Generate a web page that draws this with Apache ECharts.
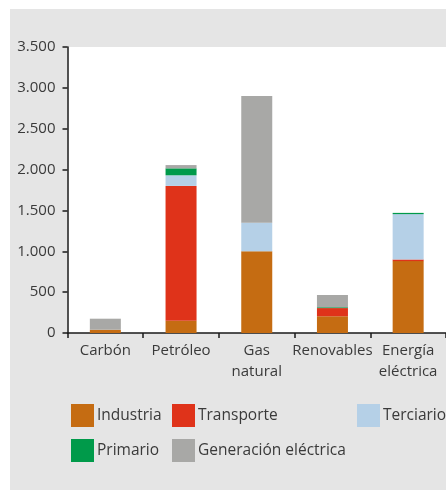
<!DOCTYPE html>
<html><head><meta charset="utf-8">
<script src="https://cdn.jsdelivr.net/npm/echarts@6/dist/echarts.min.js"></script>
<style>html,body{margin:0;padding:0;background:#fff}#c{width:446px;height:490px}</style>
</head><body><div id="c"></div>
<script>
const categories = ['Carbón', 'Petróleo', 'Gas\nnatural', 'Renovables', 'Energía\neléctrica'];
const industria = [40, 150, 1000, 205, 880];
const transporte = [0, 1650, 0, 100, 20];
const terciario = [0, 130, 350, 0, 555];
const primario = [0, 85, 0, 10, 15];
const generacion = [135, 40, 1550, 150, 0];
const yTicks = [0, 500, 1000, 1500, 2000, 2500, 3000, 3500];

const seriesNames = ['Industria', 'Transporte', 'Terciario', 'Primario', 'Generación eléctrica'];
const seriesData = [industria, transporte, terciario, primario, generacion];
const colors = ['#c56c12', '#df331a', '#b5d0e7', '#009a4a', '#a8a8a6'];
const font = '"Open Sans", sans-serif';
const txt = '#3a3a3a';

const legendPos = [[71, 404], [172, 404], [357, 404], [71, 439], [172, 439]];

const chart = echarts.init(document.getElementById('c'), null, {renderer: 'canvas'});
chart.setOption({
  backgroundColor: '#ffffff',
  animation: false,
  graphic: [{type: 'rect', z: -10, shape: {x: 10, y: 9, width: 436, height: 481}, style: {fill: '#e5e5e5'}}],
  grid: {left: 67.5, top: 47, right: -1.5, bottom: 157, show: true, backgroundColor: '#ffffff', borderWidth: 0},
  xAxis: {
    type: 'category', data: categories,
    axisLine: {lineStyle: {color: '#1a1a1a', width: 1.5}},
    axisTick: {show: true, length: 5, lineStyle: {color: '#1a1a1a', width: 1.5}},
    axisLabel: {color: txt, fontFamily: font, fontSize: 15, margin: 7, lineHeight: 21, interval: 0}
  },
  yAxis: {
    type: 'value', min: yTicks[0], max: yTicks[yTicks.length - 1], interval: 500,
    splitLine: {show: false},
    axisLine: {show: true, lineStyle: {color: '#1a1a1a', width: 1.5}},
    axisTick: {show: true, length: 5, lineStyle: {color: '#1a1a1a', width: 1.5}},
    axisLabel: {color: txt, fontFamily: font, fontSize: 15, margin: 12,
      formatter: v => String(v).replace(/\B(?=(\d{3})+(?!\d))/g, '.')}
  },
  legend: seriesNames.map((n, i) => ({
    data: [n], left: legendPos[i][0], top: legendPos[i][1], padding: 0,
    icon: 'rect', itemWidth: 23, itemHeight: 23, itemGap: 3,
    textStyle: {color: txt, fontFamily: font, fontSize: 15.5, padding: [0, 0, 0, -2]}
  })),
  series: seriesNames.map((n, i) => ({
    name: n, type: 'bar', stack: 'total', barWidth: 31,
    itemStyle: {color: colors[i]}, data: seriesData[i]
  }))
});
</script></body></html>
